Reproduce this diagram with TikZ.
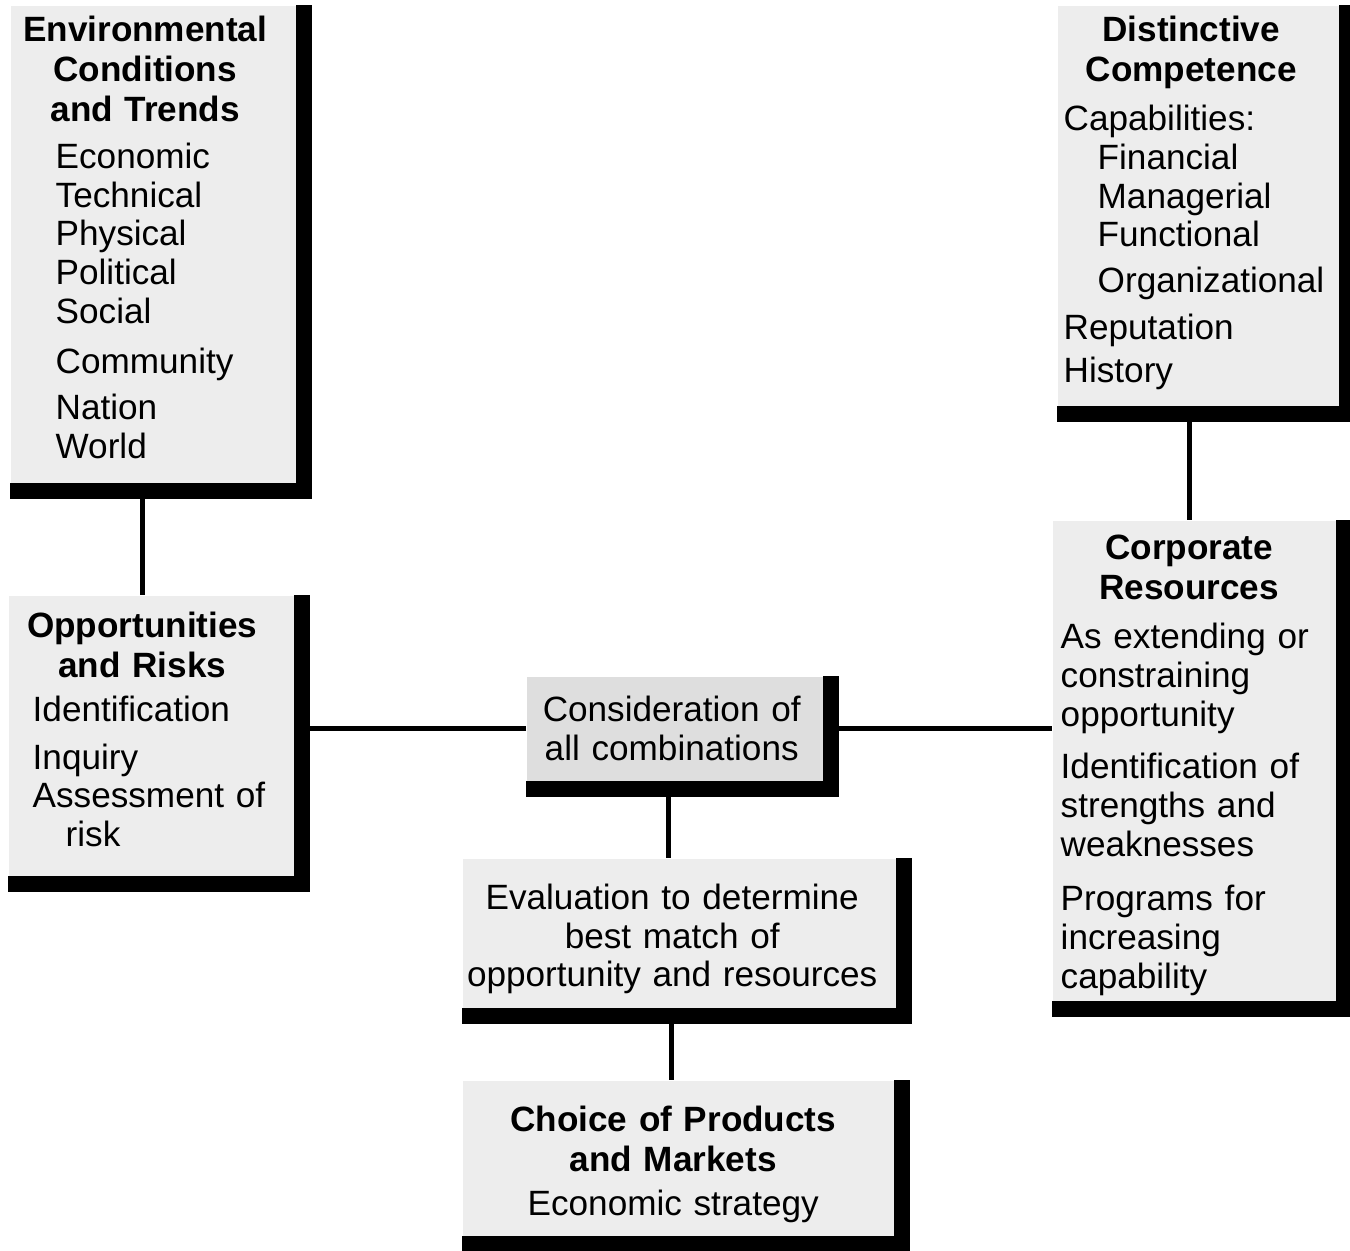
\documentclass[tikz,border=0pt]{standalone}
\usepackage{fontspec}
\setmainfont{Liberation Sans}
\usetikzlibrary{positioning}
\setlength\parindent{0pt}
\setlength\parskip{0pt}
\newcommand\ctr[2][0cm]{{\centering\rightskip=#1 plus 1fil #2\par}}
\newcommand\hd[2][0cm]{\ctr[#1]{\bfseries\fontsize{10}{11.4}\selectfont #2}}
\tikzset{
  card/.style={fill=black!7,inner sep=0pt,anchor=north west,
    font=\fontsize{10}{11}\selectfont},
  bar/.style={fill=black},
  link/.style={line width=1.4pt},
}
\begin{document}
\begin{tikzpicture}
  \useasboundingbox (0,0) rectangle (13.5,-12.51);
  % boxes (a trailing \kern nudges the text up or down)
  \node[card,text width=2.85cm,minimum height=4.77cm] (env) at (0.10,-0.05) {%
    \hd[0.16cm]{Environmental\\ Conditions\\ and Trends}\vspace{2.4pt}
    \leftskip=0.45cm
    Economic\\ Technical\\ Physical\\ Political\\ Social\\[3.4pt]
    Community\\[2pt] Nation\\ World\par\kern4pt};
  \node[card,text width=2.81cm,minimum height=4.00cm] (comp) at (10.57,-0.05) {%
    \hd[0.14cm]{Distinctive\\ Competence}\vspace{3pt}
    \leftskip=0.06cm Capabilities:\par
    \leftskip=0.40cm Financial\\ Managerial\\ Functional\\[2pt] Organizational\par
    \vspace{2.3pt}
    \leftskip=0.06cm Reputation\\[1.2pt] History\par\kern1.7pt};
  \node[card,text width=2.85cm,minimum height=2.80cm] (opp) at (0.08,-5.95) {%
    \hd[0.18cm]{Opportunities\\ and Risks}\vspace{1.3pt}
    \leftskip=0.24cm
    Identification\\[2.7pt] Inquiry\\ Assessment of\\ \hspace*{0.33cm}risk\par\kern3.4pt};
  \node[card,fill=black!13,text width=2.96cm,minimum height=1.04cm] (cons) at (5.26,-6.76) {%
    \ctr[0.06cm]{Consideration of\\ all combinations}};
  \node[card,text width=4.33cm,minimum height=1.49cm] (eval) at (4.62,-8.58) {%
    \ctr[0.14cm]{Evaluation to determine\\ best match of\\ opportunity and resources}\kern-3.4pt};
  \node[card,text width=4.31cm,minimum height=1.55cm] (choice) at (4.62,-10.80) {%
    \hd[0.1cm]{Choice of Products\\ and Markets}\vspace{1.5pt}
    \ctr[0.1cm]{Economic strategy}\kern-3.4pt};
  \node[card,text width=2.83cm,minimum height=4.80cm] (corp) at (10.52,-5.20) {%
    \hd[0.1cm]{Corporate\\ Resources}\vspace{3pt}
    \leftskip=0.08cm
    As extending or\\ constraining\\ opportunity\\[4pt]
    Identification of\\ strengths and\\ weaknesses\\[4.6pt]
    Programs for\\ increasing\\ capability\par\kern-2.6pt};
  % connectors
  \draw[link] ([xshift=-0.11cm]env.south) -- ([xshift=-0.11cm]env.south |- opp.north);
  \draw[link] ([xshift=-0.085cm]comp.south) -- ([xshift=-0.085cm]comp.south |- corp.north);
  \draw[link] (cons.west) -- (cons.west -| opp.east);
  \draw[link] (cons.east) -- (cons.east -| corp.west);
  \draw[link] ([xshift=-0.06cm]cons.south) -- ([xshift=-0.06cm]cons.south |- eval.north);
  \draw[link] ([xshift=-0.08cm]eval.south) -- ([xshift=-0.08cm]eval.south |- choice.north);
  % heavy right and bottom edges
  \foreach \n in {env,comp,opp,cons,eval,choice,corp}{
    \fill[bar] (\n.north east) rectangle ([xshift=0.16cm,yshift=-0.16cm]\n.south east);
    \fill[bar] (\n.south west) rectangle ([yshift=-0.16cm]\n.south east);
  }
\end{tikzpicture}
\end{document}
